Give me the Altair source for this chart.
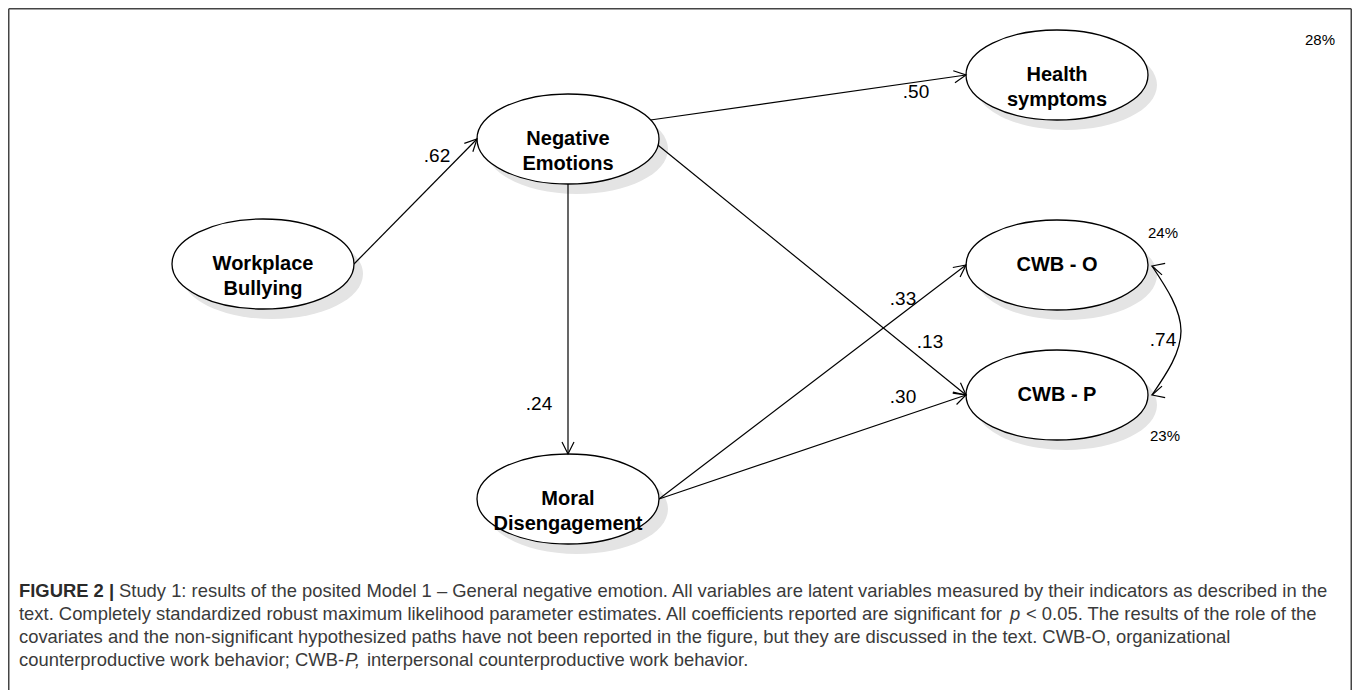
import altair as alt
import pandas as pd
import numpy as np

# ---------------- data ----------------
node_labels = ["Workplace\nBullying", "Negative\nEmotions", "Health\nsymptoms",
               "Moral\nDisengagement", "CWB - O", "CWB - P"]
node_x = [263, 568, 1057, 568, 1057, 1057]
node_y = [264, 139, 75, 499, 265, 395]

edge_from = [0, 1, 1, 1, 3, 3]
edge_to = [1, 2, 3, 5, 4, 5]
edge_from_side = [0, 335, 90, 8, 0, 0]      # angle on source ellipse (deg, screen)
edge_to_side = [180, 180, 270, 180, 180, 180]
coef_labels = [".62", ".50", ".24", ".13", ".33", ".30"]
coef_x = [437, 916, 539, 930, 903, 903]
coef_y = [156, 92, 404, 342, 299, 397]

cov_label = ".74"
cov_label_x = [1163]
cov_label_y = [340]
cov_x = [1152, 1181, 1152]
cov_y = [266, 331, 395]
cov_head_angle = [195, 165]

r2_labels = ["28%", "24%", "23%"]
r2_x = [1320, 1163, 1165]
r2_y = [40, 233, 436]

caption_text = [
    "FIGURE 2 |",
    "Study 1: results of the posited Model 1 \u2013 General negative emotion. All variables are latent variables measured by their indicators as described in the",
    "text. Completely standardized robust maximum likelihood parameter estimates. All coefficients reported are significant for",
    "p",
    "< 0.05. The results of the role of the",
    "covariates and the non-significant hypothesized paths have not been reported in the figure, but they are discussed in the text. CWB-O, organizational",
    "counterproductive work behavior; CWB-",
    "P,",
    "interpersonal counterproductive work behavior.",
]
caption_x = [19, 119, 19, 1010, 1026, 19, 19, 345, 367]
caption_line = [0, 0, 1, 1, 1, 2, 3, 3, 3]
caption_weight = ["bold", "normal", "normal", "normal", "normal", "normal", "normal", "normal", "normal"]
caption_style = ["normal", "normal", "normal", "italic", "normal", "normal", "normal", "italic", "normal"]
caption_line_y = [591, 614, 637, 660]

# ---------------- layout / style ----------------
RX, RY = 91, 45
W, H = 1344, 682
X0, Y0 = 8, 8
FONT = "Liberation Sans"

k = 0.5523
ry = RY / RX
ellipse_path = (f"M-1,0 C-1,{-k*ry:.4f} {-k:.4f},{-ry:.4f} 0,{-ry:.4f} "
                f"C{k:.4f},{-ry:.4f} 1,{-k*ry:.4f} 1,0 "
                f"C1,{k*ry:.4f} {k:.4f},{ry:.4f} 0,{ry:.4f} "
                f"C{-k:.4f},{ry:.4f} -1,{k*ry:.4f} -1,0 Z")
ellipse_size = (2 * RX) ** 2
chevron_path = "M-1,-0.5 L0,0 L-1,0.5"
chevron_size = (2 * 12) ** 2

xs = alt.Scale(domain=[X0, X0 + W], nice=False, zero=False)
ys = alt.Scale(domain=[Y0, Y0 + H], nice=False, zero=False, reverse=True)
X = lambda f="x": alt.X(f"{f}:Q", scale=xs, axis=None)
Y = lambda f="y": alt.Y(f"{f}:Q", scale=ys, axis=None)

nodes = pd.DataFrame({"label": node_labels, "x": node_x, "y": node_y})

def pt(i, ang):
    a = np.deg2rad(ang)
    return node_x[i] + RX * np.cos(a), node_y[i] + RY * np.sin(a)

rows = []
for f, t, fa, ta in zip(edge_from, edge_to, edge_from_side, edge_to_side):
    x1, y1 = pt(f, fa)
    x2, y2 = pt(t, ta)
    ang = np.degrees(np.arctan2(y2 - y1, x2 - x1)) % 360
    rows.append({"x": x1, "y": y1, "x2": x2, "y2": y2, "ang": ang})
edges = pd.DataFrame(rows)
heads = pd.DataFrame({"x": edges["x2"], "y": edges["y2"], "ang": edges["ang"]})
cov_heads = pd.DataFrame({"x": [cov_x[0], cov_x[-1]], "y": [cov_y[0], cov_y[-1]],
                          "ang": cov_head_angle})
heads_all = pd.concat([heads, cov_heads], ignore_index=True)

coefs = pd.DataFrame({"t": coef_labels + [cov_label],
                      "x": coef_x + cov_label_x, "y": coef_y + cov_label_y})
r2 = pd.DataFrame({"t": r2_labels, "x": r2_x, "y": r2_y})
cov = pd.DataFrame({"x": cov_x, "y": cov_y, "o": list(range(len(cov_x)))})

cap = pd.DataFrame({
    "t": caption_text, "x": caption_x,
    "y": [caption_line_y[i] for i in caption_line],
    "w": caption_weight, "s": caption_style,
})

frame = pd.DataFrame({"x": [8.75, 8.75, 1351.25], "y": [8.75, 8.75, 8.75],
                      "x2": [1351.25, 8.75, 1351.25], "y2": [8.75, 690, 690]})

layers = []
layers.append(alt.Chart(frame).mark_rule(color="#444", strokeWidth=1.5).encode(
    x=X(), y=Y(), x2="x2:Q", y2="y2:Q"))
layers.append(alt.Chart(nodes).mark_point(
    shape=ellipse_path, size=ellipse_size, filled=True, fill="#e4e4e4",
    strokeWidth=0, opacity=1, xOffset=9, yOffset=10).encode(x=X(), y=Y()))
layers.append(alt.Chart(edges).mark_rule(color="black", strokeWidth=1.2).encode(
    x=X(), y=Y(), x2="x2:Q", y2="y2:Q"))
layers.append(alt.Chart(cov).mark_line(color="black", strokeWidth=1.3,
                                       interpolate="natural").encode(
    x=X(), y=Y(), order="o:Q"))
layers.append(alt.Chart(nodes).mark_point(
    shape=ellipse_path, size=ellipse_size, filled=True, fill="white",
    stroke="black", strokeWidth=1.3, opacity=1).encode(x=X(), y=Y()))
layers.append(alt.Chart(heads_all).mark_point(
    shape=chevron_path, size=chevron_size, filled=False, stroke="black",
    strokeWidth=1.2, opacity=1).encode(
    x=X(), y=Y(), angle=alt.Angle("ang:Q", scale=None)))
layers.append(alt.Chart(nodes).mark_text(
    font=FONT, fontSize=20, fontWeight="bold", lineBreak="\n", lineHeight=25,
    color="black", align="center", baseline="middle").encode(
    x=X(), y=Y(), text="label:N"))
layers.append(alt.Chart(coefs).mark_text(
    font=FONT, fontSize=19, color="black", align="center", baseline="middle").encode(
    x=X(), y=Y(), text="t:N"))
layers.append(alt.Chart(r2).mark_text(
    font=FONT, fontSize=15, color="black", align="center", baseline="middle").encode(
    x=X(), y=Y(), text="t:N"))
for wt in ["bold", "normal"]:
    for st in ["normal", "italic"]:
        sub = cap[(cap.w == wt) & (cap.s == st)]
        if len(sub) == 0:
            continue
        layers.append(alt.Chart(sub).mark_text(
            font=FONT, fontSize=18.4, fontWeight=wt, fontStyle=st,
            color="#2a2a2a" if wt == "bold" else "#3a3a3a",
            align="left", baseline="middle").encode(x=X(), y=Y(), text="t:N"))

chart = alt.layer(*layers).properties(
    width=W, height=H, padding=0,
    autosize=alt.AutoSizeParams(type="none"),
).configure_view(strokeWidth=0)

chart.save("out.html", embed_options={"renderer": "svg", "actions": False})
